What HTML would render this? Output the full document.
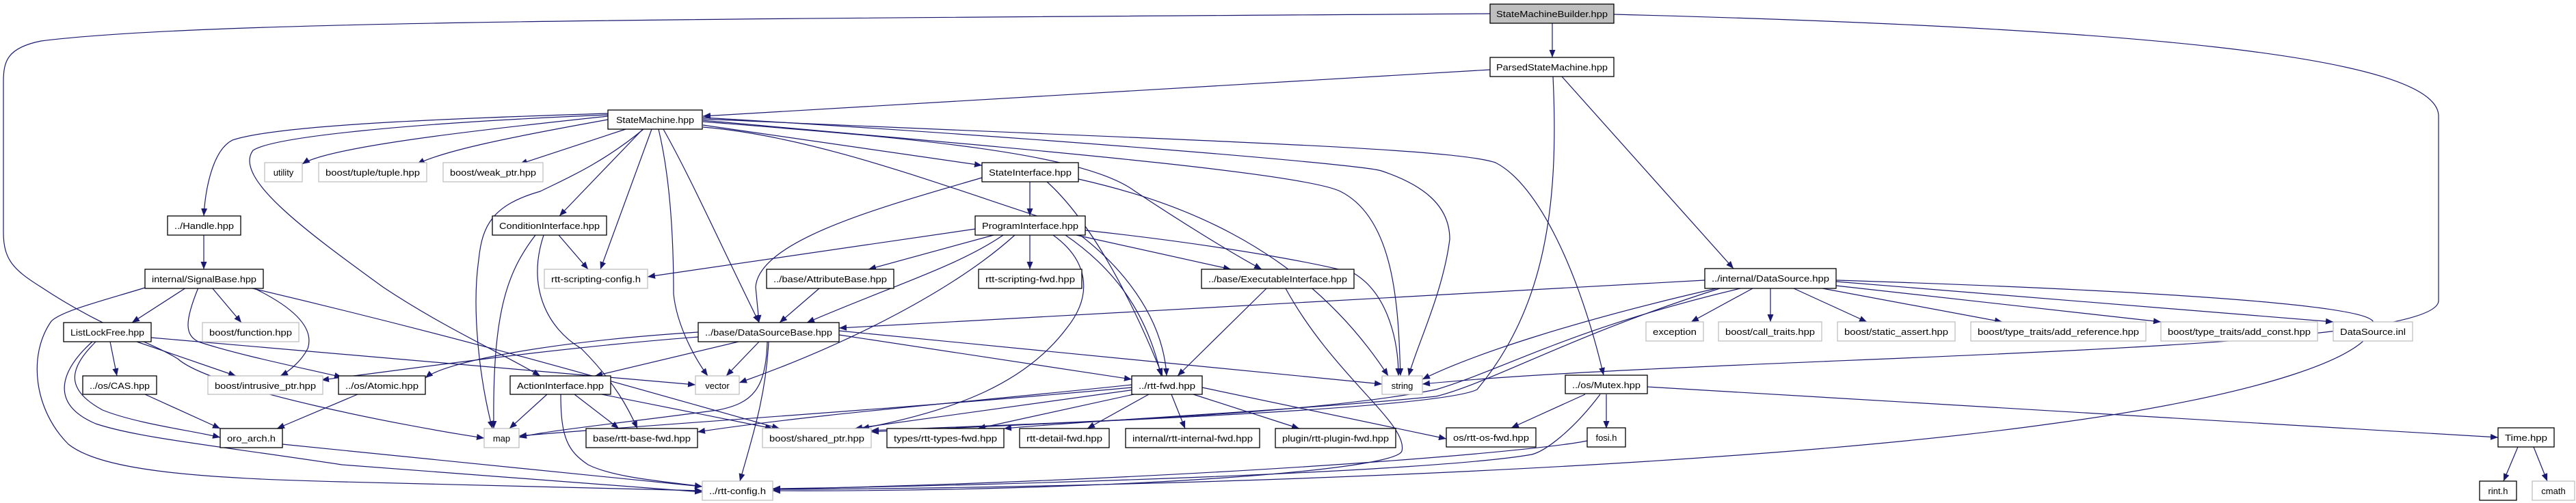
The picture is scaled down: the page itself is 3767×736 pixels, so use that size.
<!DOCTYPE html>
<html><head><meta charset="utf-8"><style>
html,body{margin:0;padding:0;background:#fff;}
svg{display:block;}
text{font-family:"Liberation Sans","DejaVu Sans",sans-serif;font-size:13px;fill:#000;}
.e{fill:none;stroke:#191970;stroke-width:1.2;marker-end:url(#a);}
.n{fill:#fff;stroke:#000;stroke-width:1.3;}
.x{fill:#fff;stroke:#bfbfbf;stroke-width:1.3;}
</style></head><body>
<svg width="3767" height="736" viewBox="0 0 3767 736" xmlns="http://www.w3.org/2000/svg">
<defs><marker id="a" markerUnits="userSpaceOnUse" markerWidth="12" markerHeight="9" refX="11" refY="4.5" orient="auto"><path d="M0,0 L11,4.5 L0,9 z" fill="#191970"/></marker></defs>
<g>
<path class="e" d="M2270,34 L2270,84"/>
<path class="e" d="M2179,20 C1000,28 300,30 60,60 C10,70 5,90 5,120 L5,340 C5,380 20,395 60,420 C150,480 220,500 260,525 C310,570 600,625 708,641"/>
<path class="e" d="M2360,21 C3100,40 3566,80 3566,170 L3566,440 C3566,520 2500,520 2080,562"/>
<path class="e" d="M2179,102 L1028,170"/>
<path class="e" d="M2271,112 C2280,300 2260,450 2160,570 C2100,600 1500,620 1274,632"/>
<path class="e" d="M2284,112 L2535,393"/>
<path class="e" d="M889,170 C700,190 480,215 442,240"/>
<path class="e" d="M889,175 C750,200 650,220 610,240"/>
<path class="e" d="M915,189 L760,240"/>
<path class="e" d="M889,166 C600,175 400,185 340,205 C310,220 300,280 298,316"/>
<path class="e" d="M889,168 C600,180 400,200 370,220 C340,260 450,340 560,420 C650,480 740,520 790,550"/>
<path class="e" d="M940,189 L818,316"/>
<path class="e" d="M953,189 L878,394"/>
<path class="e" d="M963,189 C980,260 985,350 985,430 C990,480 1020,530 1035,550"/>
<path class="e" d="M970,189 C1010,260 1050,350 1110,472"/>
<path class="e" d="M941,189 C880,240 820,265 790,280 C720,300 705,330 700,380 C690,450 700,550 720,627"/>
<path class="e" d="M1028,183 L1436,242"/>
<path class="e" d="M1028,178 C1300,200 1580,220 1660,280 C1720,320 1800,370 1845,394"/>
<path class="e" d="M1028,176 C1400,210 1900,250 1960,280 C2040,320 2045,450 2048,550"/>
<path class="e" d="M1028,172 C1500,200 1990,240 2020,250 C2080,270 2120,300 2120,350 C2110,430 2070,510 2060,550"/>
<path class="e" d="M1028,174 C1700,205 2120,215 2187,238 C2250,270 2310,400 2345,549"/>
<path class="e" d="M1028,186 C1200,200 1400,280 1560,330 C1620,370 1700,450 1706,550"/>
<path class="e" d="M1506,266 L1506,316"/>
<path class="e" d="M1436,260 C1300,300 1110,350 1105,420 L1110,472"/>
<path class="e" d="M1531,266 C1580,310 1640,400 1700,550"/>
<path class="e" d="M1577,262 C1700,290 1900,350 2030,550"/>
<path class="e" d="M1506,344 L1506,394"/>
<path class="e" d="M1426,335 L947,405"/>
<path class="e" d="M1453,344 L1270,394"/>
<path class="e" d="M1467,344 C1400,390 1300,420 1180,472"/>
<path class="e" d="M1484,344 C1400,420 1250,500 1081,560"/>
<path class="e" d="M1540,344 C1590,380 1600,430 1560,480 C1500,560 1400,600 1260,627"/>
<path class="e" d="M1558,344 C1640,400 1680,470 1698,550"/>
<path class="e" d="M1574,344 L1800,394"/>
<path class="e" d="M1587,337 C1800,360 1950,390 1980,400 C2030,430 2045,500 2045,550"/>
<path class="e" d="M1198,422 L1140,472"/>
<path class="e" d="M1852,422 L1722,550"/>
<path class="e" d="M1880,422 C1950,550 2060,620 2050,660 C2040,690 1600,720 1130,718"/>
<path class="e" d="M2493,410 L1227,480"/>
<path class="e" d="M2510,422 C2300,470 2150,520 2080,555"/>
<path class="e" d="M2563,422 L2473,471"/>
<path class="e" d="M2589,422 L2589,471"/>
<path class="e" d="M2623,422 L2730,471"/>
<path class="e" d="M2665,422 L2928,471"/>
<path class="e" d="M2685,418 L3160,471"/>
<path class="e" d="M2685,412 L3412,471"/>
<path class="e" d="M2545,422 C2300,480 2200,540 2100,570 C1900,610 1500,620 1274,630"/>
<path class="e" d="M2515,422 C2300,490 2180,560 2100,580 C1900,600 1600,615 1468,627"/>
<path class="e" d="M2685,410 C3000,420 3450,440 3470,470 C3480,520 3300,580 3000,620 C2500,690 1600,715 1130,716"/>
<path class="e" d="M1080,500 L870,550"/>
<path class="e" d="M1110,500 L1062,550"/>
<path class="e" d="M1122,500 C1120,570 1100,590 1050,600 C900,620 800,630 759,640"/>
<path class="e" d="M1124,500 C1120,580 1100,640 1082,704"/>
<path class="e" d="M1021,486 C800,500 650,530 622,553"/>
<path class="e" d="M1021,493 C800,510 600,540 470,556"/>
<path class="e" d="M1227,490 L1655,555"/>
<path class="e" d="M1227,484 L2021,562"/>
<path class="e" d="M800,577 L745,627"/>
<path class="e" d="M840,577 L905,627"/>
<path class="e" d="M880,577 L1130,627"/>
<path class="e" d="M820,577 C820,640 830,660 860,680 C900,700 980,705 1027,712"/>
<path class="e" d="M817,344 L860,394"/>
<path class="e" d="M783,344 C740,400 720,460 722,627"/>
<path class="e" d="M795,344 C770,420 800,480 850,510 C900,560 920,600 932,627"/>
<path class="e" d="M1655,567 C1300,600 900,625 759,638"/>
<path class="e" d="M1655,563 C1400,590 1200,605 1020,632"/>
<path class="e" d="M1660,570 L1250,627"/>
<path class="e" d="M1658,577 L1430,627"/>
<path class="e" d="M1680,577 L1590,627"/>
<path class="e" d="M1713,577 L1733,627"/>
<path class="e" d="M1745,577 L1900,627"/>
<path class="e" d="M1758,567 L2115,642"/>
<path class="e" d="M2318,577 L2210,626"/>
<path class="e" d="M2349,577 L2349,627"/>
<path class="e" d="M2340,577 C2300,630 2260,660 2240,665 C2100,690 1500,710 1130,715"/>
<path class="e" d="M2409,566 L3653,640"/>
<path class="e" d="M2321,645 C2250,660 1800,700 1130,716"/>
<path class="e" d="M3682,654 L3661,704"/>
<path class="e" d="M3705,654 L3725,704"/>
<path class="e" d="M298,344 L298,394"/>
<path class="e" d="M272,421 L193,472"/>
<path class="e" d="M310,421 L353,472"/>
<path class="e" d="M370,421 C430,450 460,480 450,510 C440,530 420,545 410,550"/>
<path class="e" d="M290,421 C270,470 270,490 290,500 C350,520 450,540 500,552"/>
<path class="e" d="M365,421 C700,500 900,560 1140,627"/>
<path class="e" d="M212,421 C150,440 90,455 75,470 C40,520 50,600 100,650 C150,690 300,700 500,705 L1027,718"/>
<path class="e" d="M161,500 L171,550"/>
<path class="e" d="M200,500 L345,550"/>
<path class="e" d="M221,494 L1017,563"/>
<path class="e" d="M140,500 C100,540 95,570 150,600 C200,620 280,630 322,640"/>
<path class="e" d="M135,500 C90,540 70,590 140,620 C200,640 300,650 500,680 L1027,720"/>
<path class="e" d="M212,577 L322,627"/>
<path class="e" d="M523,577 L405,627"/>
<path class="e" d="M413,650 L1027,712"/>
</g>
<g>
<rect x="2179" y="6" width="181" height="28" fill="#bfbfbf" stroke="#000" stroke-width="1.3"/><text x="2269.5" y="25" text-anchor="middle" textLength="163" lengthAdjust="spacingAndGlyphs">StateMachineBuilder.hpp</text>
<rect class="n" x="2179" y="84" width="181" height="28"/><text x="2269.5" y="103" text-anchor="middle" textLength="163" lengthAdjust="spacingAndGlyphs">ParsedStateMachine.hpp</text>
<rect class="n" x="889" y="161" width="138" height="28"/><text x="958" y="180" text-anchor="middle" textLength="114" lengthAdjust="spacingAndGlyphs">StateMachine.hpp</text>
<rect class="x" x="387" y="238" width="55" height="28"/><text x="414.5" y="257" text-anchor="middle">utility</text>
<rect class="x" x="466" y="238" width="158" height="28"/><text x="545" y="257" text-anchor="middle" textLength="138" lengthAdjust="spacingAndGlyphs">boost/tuple/tuple.hpp</text>
<rect class="x" x="648" y="238" width="146" height="28"/><text x="721" y="257" text-anchor="middle" textLength="126" lengthAdjust="spacingAndGlyphs">boost/weak_ptr.hpp</text>
<rect class="n" x="1436" y="238" width="141" height="28"/><text x="1506.5" y="257" text-anchor="middle" textLength="121" lengthAdjust="spacingAndGlyphs">StateInterface.hpp</text>
<rect class="n" x="245" y="316" width="107" height="28"/><text x="298.5" y="335" text-anchor="middle" textLength="87" lengthAdjust="spacingAndGlyphs">../Handle.hpp</text>
<rect class="n" x="720" y="316" width="167" height="28"/><text x="803.5" y="335" text-anchor="middle" textLength="147" lengthAdjust="spacingAndGlyphs">ConditionInterface.hpp</text>
<rect class="n" x="1426" y="316" width="161" height="28"/><text x="1506.5" y="335" text-anchor="middle" textLength="141" lengthAdjust="spacingAndGlyphs">ProgramInterface.hpp</text>
<rect class="n" x="212" y="394" width="173" height="28"/><text x="298.5" y="413" text-anchor="middle" textLength="153" lengthAdjust="spacingAndGlyphs">internal/SignalBase.hpp</text>
<rect class="x" x="796" y="394" width="151" height="28"/><text x="871.5" y="413" text-anchor="middle" textLength="131" lengthAdjust="spacingAndGlyphs">rtt-scripting-config.h</text>
<rect class="n" x="1121" y="394" width="186" height="28"/><text x="1214" y="413" text-anchor="middle" textLength="166" lengthAdjust="spacingAndGlyphs">../base/AttributeBase.hpp</text>
<rect class="n" x="1431" y="394" width="151" height="28"/><text x="1506.5" y="413" text-anchor="middle" textLength="131" lengthAdjust="spacingAndGlyphs">rtt-scripting-fwd.hpp</text>
<rect class="n" x="1757" y="394" width="223" height="28"/><text x="1868.5" y="413" text-anchor="middle" textLength="203" lengthAdjust="spacingAndGlyphs">../base/ExecutableInterface.hpp</text>
<rect class="n" x="2493" y="393" width="192" height="29"/><text x="2589" y="412" text-anchor="middle" textLength="172" lengthAdjust="spacingAndGlyphs">../internal/DataSource.hpp</text>
<rect class="n" x="93" y="472" width="128" height="28"/><text x="157" y="491" text-anchor="middle" textLength="108" lengthAdjust="spacingAndGlyphs">ListLockFree.hpp</text>
<rect class="x" x="296" y="472" width="141" height="28"/><text x="366.5" y="491" text-anchor="middle" textLength="121" lengthAdjust="spacingAndGlyphs">boost/function.hpp</text>
<rect class="n" x="1021" y="472" width="206" height="28"/><text x="1124" y="491" text-anchor="middle" textLength="186" lengthAdjust="spacingAndGlyphs">../base/DataSourceBase.hpp</text>
<rect class="x" x="2407" y="471" width="84" height="28"/><text x="2449" y="490" text-anchor="middle" textLength="64" lengthAdjust="spacingAndGlyphs">exception</text>
<rect class="x" x="2513" y="471" width="151" height="28"/><text x="2588.5" y="490" text-anchor="middle" textLength="131" lengthAdjust="spacingAndGlyphs">boost/call_traits.hpp</text>
<rect class="x" x="2687" y="471" width="172" height="28"/><text x="2773" y="490" text-anchor="middle" textLength="152" lengthAdjust="spacingAndGlyphs">boost/static_assert.hpp</text>
<rect class="x" x="2882" y="471" width="256" height="28"/><text x="3010" y="490" text-anchor="middle" textLength="236" lengthAdjust="spacingAndGlyphs">boost/type_traits/add_reference.hpp</text>
<rect class="x" x="3160" y="471" width="229" height="28"/><text x="3274.5" y="490" text-anchor="middle" textLength="209" lengthAdjust="spacingAndGlyphs">boost/type_traits/add_const.hpp</text>
<rect class="x" x="3412" y="471" width="116" height="28"/><text x="3470" y="490" text-anchor="middle" textLength="96" lengthAdjust="spacingAndGlyphs">DataSource.inl</text>
<rect class="n" x="121" y="550" width="108" height="27"/><text x="175" y="569" text-anchor="middle" textLength="88" lengthAdjust="spacingAndGlyphs">../os/CAS.hpp</text>
<rect class="x" x="304" y="550" width="168" height="27"/><text x="388" y="569" text-anchor="middle" textLength="148" lengthAdjust="spacingAndGlyphs">boost/intrusive_ptr.hpp</text>
<rect class="n" x="495" y="550" width="127" height="27"/><text x="558.5" y="569" text-anchor="middle" textLength="107" lengthAdjust="spacingAndGlyphs">../os/Atomic.hpp</text>
<rect class="n" x="746" y="550" width="147" height="27"/><text x="819.5" y="569" text-anchor="middle" textLength="127" lengthAdjust="spacingAndGlyphs">ActionInterface.hpp</text>
<rect class="x" x="1017" y="550" width="64" height="27"/><text x="1049" y="569" text-anchor="middle">vector</text>
<rect class="n" x="1655" y="550" width="103" height="27"/><text x="1706.5" y="569" text-anchor="middle" textLength="83" lengthAdjust="spacingAndGlyphs">../rtt-fwd.hpp</text>
<rect class="x" x="2021" y="550" width="59" height="27"/><text x="2050.5" y="569" text-anchor="middle">string</text>
<rect class="n" x="2289" y="549" width="120" height="27"/><text x="2349" y="568" text-anchor="middle" textLength="100" lengthAdjust="spacingAndGlyphs">../os/Mutex.hpp</text>
<rect class="n" x="322" y="627" width="91" height="28"/><text x="367.5" y="646" text-anchor="middle" textLength="71" lengthAdjust="spacingAndGlyphs">oro_arch.h</text>
<rect class="x" x="708" y="627" width="51" height="28"/><text x="733.5" y="646" text-anchor="middle">map</text>
<rect class="n" x="857" y="627" width="163" height="28"/><text x="938.5" y="646" text-anchor="middle" textLength="143" lengthAdjust="spacingAndGlyphs">base/rtt-base-fwd.hpp</text>
<rect class="x" x="1115" y="627" width="159" height="28"/><text x="1194.5" y="646" text-anchor="middle" textLength="139" lengthAdjust="spacingAndGlyphs">boost/shared_ptr.hpp</text>
<rect class="n" x="1297" y="627" width="171" height="28"/><text x="1382.5" y="646" text-anchor="middle" textLength="151" lengthAdjust="spacingAndGlyphs">types/rtt-types-fwd.hpp</text>
<rect class="n" x="1491" y="627" width="131" height="28"/><text x="1556.5" y="646" text-anchor="middle" textLength="111" lengthAdjust="spacingAndGlyphs">rtt-detail-fwd.hpp</text>
<rect class="n" x="1646" y="627" width="196" height="28"/><text x="1744" y="646" text-anchor="middle" textLength="176" lengthAdjust="spacingAndGlyphs">internal/rtt-internal-fwd.hpp</text>
<rect class="n" x="1865" y="627" width="176" height="28"/><text x="1953" y="646" text-anchor="middle" textLength="156" lengthAdjust="spacingAndGlyphs">plugin/rtt-plugin-fwd.hpp</text>
<rect class="n" x="2115" y="626" width="131" height="28"/><text x="2180.5" y="645" text-anchor="middle" textLength="111" lengthAdjust="spacingAndGlyphs">os/rtt-os-fwd.hpp</text>
<rect class="n" x="2321" y="626" width="56" height="28"/><text x="2349" y="645" text-anchor="middle">fosi.h</text>
<rect class="n" x="3653" y="626" width="82" height="28"/><text x="3694" y="645" text-anchor="middle" textLength="62" lengthAdjust="spacingAndGlyphs">Time.hpp</text>
<rect class="x" x="1027" y="704" width="103" height="28"/><text x="1078.5" y="723" text-anchor="middle" textLength="83" lengthAdjust="spacingAndGlyphs">../rtt-config.h</text>
<rect class="n" x="3626" y="704" width="54" height="28"/><text x="3653" y="723" text-anchor="middle">rint.h</text>
<rect class="x" x="3703" y="704" width="62" height="28"/><text x="3734" y="723" text-anchor="middle">cmath</text>
</g>
</svg>
</body></html>
